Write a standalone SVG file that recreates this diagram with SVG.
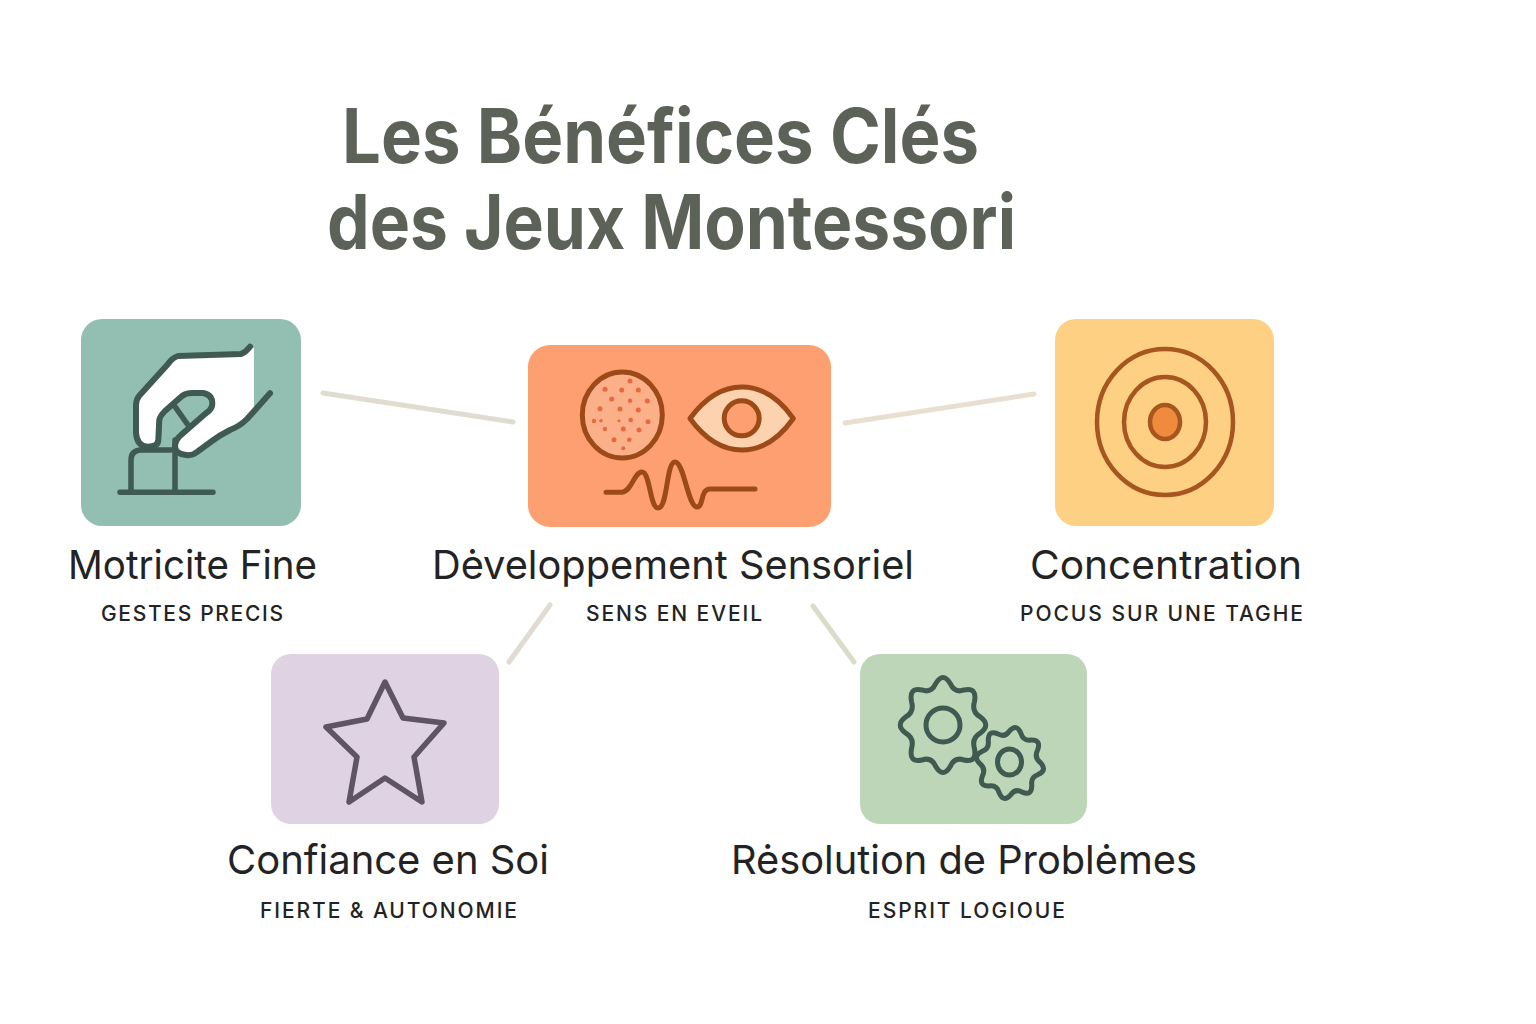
<svg xmlns="http://www.w3.org/2000/svg" width="1536" height="1024" viewBox="0 0 1536 1024">
<style>
.title{font-family:"Inter","Liberation Sans",sans-serif;font-weight:700;font-size:76px;fill:#5d6259}
.name{font-family:"Inter","Liberation Sans",sans-serif;font-size:40px;fill:#232323}
.sub{font-family:"Inter","Liberation Sans",sans-serif;font-weight:500;font-size:21px;fill:#232323}
.link{fill:none;stroke-width:5;stroke-linecap:round}
.ic{fill:none;stroke-linecap:round;stroke-linejoin:round}
</style>
<defs>
<path id="gear" vector-effect="non-scaling-stroke" d="M84.3,-16.8 Q110,0 84.3,16.8 Q64.7,26.8 71.5,47.8 Q77.8,77.8 47.8,71.5 Q26.8,64.7 16.8,84.3 Q0,110 -16.8,84.3 Q-26.8,64.7 -47.8,71.5 Q-77.8,77.8 -71.5,47.8 Q-64.7,26.8 -84.3,16.8 Q-110,0 -84.3,-16.8 Q-64.7,-26.8 -71.5,-47.8 Q-77.8,-77.8 -47.8,-71.5 Q-26.8,-64.7 -16.8,-84.3 Q0,-110 16.8,-84.3 Q26.8,-64.7 47.8,-71.5 Q77.8,-77.8 71.5,-47.8 Q64.7,-26.8 84.3,-16.8Z"/>
</defs>
<rect width="1536" height="1024" fill="#ffffff"/>
<g id="title">
<text class="title" x="342" y="163" textLength="637" lengthAdjust="spacingAndGlyphs">Les Bénéfices Clés</text>
<text class="title" x="327" y="249" textLength="689" lengthAdjust="spacingAndGlyphs">des Jeux Montessori</text>
</g>
<g id="connectors">
<line class="link" x1="323" y1="393" x2="513" y2="422" stroke="#e0dcd0"/>
<line class="link" x1="845" y1="423" x2="1034" y2="394" stroke="#e9dfd1"/>
<line class="link" x1="550" y1="605" x2="509" y2="662" stroke="#e0dbd3"/>
<line class="link" x1="813" y1="606" x2="854" y2="662" stroke="#d8dcc8"/>
</g>
<g id="node-motricite">
<rect x="81" y="319" width="220" height="207" rx="21" fill="#93bfb2"/>
<path fill="#ffffff" d="M250,347 L241.7,355 L175,356 L136,400 V433 Q137,446 147,446.7 L176,454 L193,455 L220,435 L245,421.7 L254,411 V348 Z"/>
<path fill="#93bfb2" d="M158,447 L159.3,418.3 L185,393.3 H205 Q214,396 212,406.7 L175,440 V450 H158 Z"/>
<path class="ic" stroke="#3e5a52" stroke-width="6" d="M250,346.7 Q246,352 241,354 L178,356 Q172,358 168,364 L139,396 Q136,400 136,405 V433 Q137,446 147.3,446.7 Q158,447 158.3,440 L159.3,420 Q160,416 165,411 L182,396 Q186,393 192,393 H203 Q214,395 212,406 Q211,410 205,414 L181,435 Q175,440 175,447 Q176,454 186,455 Q192,456 197,452 L212,441 Q220,435 230,430 Q240,426 247,419 L270,393.3"/>
<path class="ic" stroke="#3e5a52" stroke-width="5.5" d="M175,406.7 L188,425 M175,450 H140 Q131,451 131,460 V492 M175,440 V492 M120,492.3 H213"/>
<text class="name" x="68" y="579" textLength="249" lengthAdjust="spacingAndGlyphs">Motricite Fine</text>
<text class="sub" x="101" y="621" textLength="182">GESTES PRECIS</text>
</g>
<g id="node-sensoriel">
<rect x="528" y="345" width="303" height="182" rx="22" fill="#fd9f70"/>
<ellipse cx="622.3" cy="415" rx="40" ry="43" fill="#fbb08a" stroke="#9c4a17" stroke-width="5"/>
<g fill="#e8693c">
<circle cx="630" cy="381" r="2.5"/><circle cx="605" cy="389.3" r="2.5"/><circle cx="621.7" cy="390" r="2.5"/><circle cx="638.3" cy="390" r="2.5"/><circle cx="611.7" cy="399" r="2.5"/><circle cx="630" cy="400.7" r="2.2"/><circle cx="647.3" cy="401" r="2.5"/><circle cx="600" cy="408.7" r="2.5"/><circle cx="620" cy="409" r="2.5"/><circle cx="638.3" cy="410" r="2.5"/><circle cx="594" cy="421" r="2.2"/><circle cx="601" cy="420.7" r="1.8"/><circle cx="619" cy="420.7" r="1.5"/><circle cx="630.7" cy="420" r="2.3"/><circle cx="648" cy="421.7" r="2.5"/><circle cx="605" cy="429" r="2.2"/><circle cx="623.3" cy="429" r="2.5"/><circle cx="639" cy="430" r="2.5"/><circle cx="614" cy="439.7" r="2.5"/><circle cx="629.3" cy="439.7" r="2.3"/><circle cx="623.3" cy="448.3" r="2"/>
</g>
<path fill="#fcd3ae" stroke="#9c4a17" stroke-width="5" stroke-linejoin="round" d="M690,418.5 Q713,387 742,387 Q771,387 793.3,418.5 Q771,450 742,450 Q713,450 690,418.5 Z"/>
<circle cx="741.7" cy="418.3" r="17.5" fill="#fd9f70" stroke="#9c4a17" stroke-width="5"/>
<path class="ic" stroke="#9c4a17" stroke-width="5" d="M606,492.3 H622 C632,491 634,472 642,472 C650,472 650,508 658,508 C668,508 666,462 675,462 C684,462 688,507 697,507 C704,507 700,489 710,489 H755"/>
<text class="name" x="432" y="579" textLength="482" lengthAdjust="spacingAndGlyphs">Dėveloppement Sensoriel</text>
<text class="sub" x="586" y="621" textLength="176">SENS EN EVEIL</text>
</g>
<g id="node-concentration">
<rect x="1055" y="319" width="219" height="207" rx="21" fill="#fdd084"/>
<g fill="none" stroke="#a6561e" stroke-width="4.5">
<ellipse cx="1165" cy="422" rx="68" ry="73"/>
<ellipse cx="1165" cy="422" rx="41" ry="45"/>
<ellipse cx="1165" cy="422" rx="15" ry="17" fill="#f08a3c"/>
</g>
<text class="name" x="1030" y="579" textLength="272" lengthAdjust="spacingAndGlyphs">Concentration</text>
<text class="sub" x="1020" y="621" textLength="283">POCUS SUR UNE TAGHE</text>
</g>
<g id="node-confiance">
<rect x="271" y="654" width="228" height="170" rx="20" fill="#dfd3e3"/>
<polygon class="ic" stroke="#5e5464" stroke-width="5.5" points="385,682 403,718 444,723 414,757 422,802 385,778 349,802 357,757 326,727 367,719"/>
<text class="name" x="227" y="874" textLength="322" lengthAdjust="spacingAndGlyphs">Confiance en Soi</text>
<text class="sub" x="260" y="918" textLength="257">FIERTE &amp; AUTONOMIE</text>
</g>
<g id="node-resolution">
<rect x="860" y="654" width="227" height="170" rx="20" fill="#bed6b8"/>
<g fill="none" stroke="#3f5a50" stroke-width="5">
<use href="#gear" transform="translate(943,725) scale(.44,.49)"/>
<use href="#gear" transform="translate(1010,763) scale(.35,.37) rotate(10)"/>
<ellipse cx="943" cy="725" rx="17" ry="17"/>
<ellipse cx="1009.5" cy="762" rx="12" ry="13"/>
</g>
<text class="name" x="731" y="874" textLength="466" lengthAdjust="spacingAndGlyphs">Rėsolution de Problėmes</text>
<text class="sub" x="868" y="918" textLength="197">ESPRIT LOGIOUE</text>
</g>
</svg>
